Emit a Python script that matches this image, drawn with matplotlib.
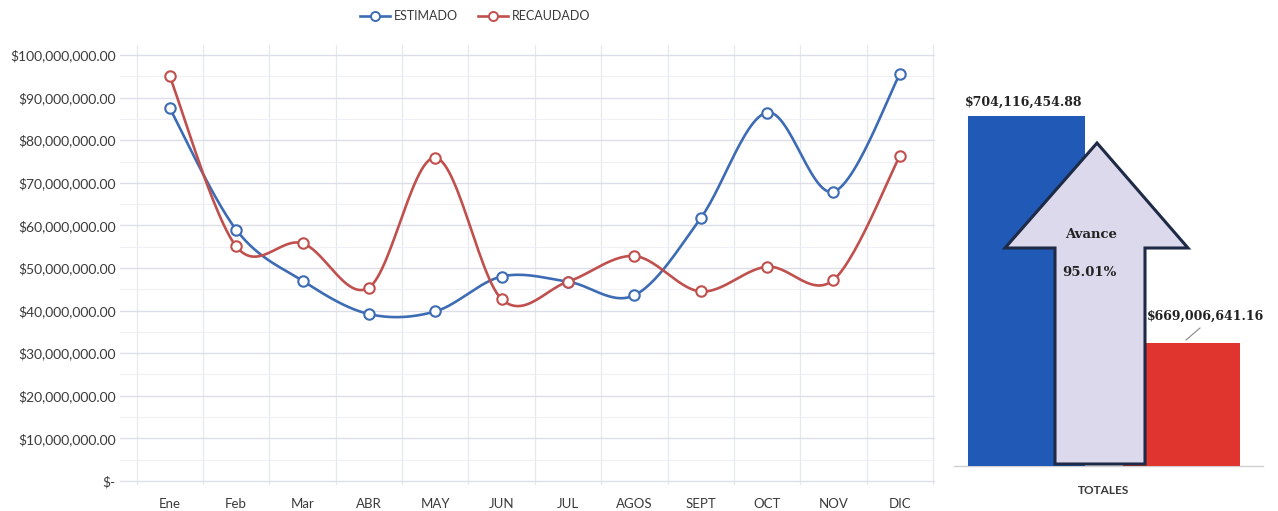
import matplotlib
matplotlib.use("Agg")
import matplotlib.pyplot as plt
import numpy as np
from matplotlib.patches import Polygon
from matplotlib.lines import Line2D
from matplotlib.ticker import FuncFormatter, MultipleLocator

months = ["Ene", "Feb", "Mar", "ABR", "MAY", "JUN", "JUL", "AGOS", "SEPT", "OCT", "NOV", "DIC"]
estimado = [87.5e6, 59.0e6, 47.0e6, 39.2e6, 39.8e6, 48.0e6, 46.8e6, 43.6e6, 61.7e6, 86.5e6, 67.9e6, 95.5e6]
recaudado = [95.0e6, 55.1e6, 55.8e6, 45.4e6, 75.9e6, 42.7e6, 46.8e6, 52.8e6, 44.5e6, 50.3e6, 47.2e6, 76.3e6]
series_names = ["ESTIMADO", "RECAUDADO"]
total_estimado = 704116454.88
total_recaudado = 669006641.16
total_labels = ["$704,116,454.88", "$669,006,641.16"]
total_category = "TOTALES"
avance_text = "Avance"
avance_pct = "95.01%"

BLUE = "#3d6cb4"
RED = "#c0504d"
BAR_BLUE = "#2059b6"
BAR_RED = "#e0352e"
TXT = "#3a3a3a"

W, H = 1278, 511
fig = plt.figure(figsize=(W / 100, H / 100), dpi=100)
fig.patch.set_facecolor("white")


def fx(px):
    return px / W


def fy(py):
    return 1 - py / H


def smooth(y):
    y = np.asarray(y, dtype=float)
    n = len(y)
    x = np.arange(n, dtype=float)
    pts = np.column_stack([x, y])
    out = []
    t = np.linspace(0, 1, 30)
    for i in range(n - 1):
        p0 = pts[i]
        p3 = pts[i + 1]
        pm = pts[i - 1] if i > 0 else pts[i]
        pp = pts[i + 2] if i + 2 < n else pts[i + 1]
        p1 = p0 + (p3 - pm) / 6
        p2 = p3 - (pp - p0) / 6
        seg = ((1 - t) ** 3)[:, None] * p0 + (3 * (1 - t) ** 2 * t)[:, None] * p1 \
            + (3 * (1 - t) * t ** 2)[:, None] * p2 + (t ** 3)[:, None] * p3
        out.append(seg if i == 0 else seg[1:])
    s = np.vstack(out)
    return s[:, 0], s[:, 1]


# ---- line chart ----
ax = fig.add_axes([fx(120), fy(485), fx(935) - fx(120), fy(45) - fy(485)])
ax.set_xlim(-0.75, 11.53)
ax.set_ylim(-0.94e6, 102.35e6)
ax.set_facecolor("white")
for s in ax.spines.values():
    s.set_visible(False)

ax.yaxis.set_major_locator(MultipleLocator(10e6))
ax.yaxis.set_minor_locator(MultipleLocator(5e6))
ax.grid(which="major", axis="y", color="#dcdee8", lw=1.0)
ax.grid(which="minor", axis="y", color="#eef0f5", lw=0.8)
for b in np.arange(-0.5, 12, 1.0):
    ax.axvline(b, color="#e6e8ef", lw=0.9, zorder=0)
ax.set_axisbelow(True)

ax.yaxis.set_major_formatter(FuncFormatter(lambda v, p: "$-" if abs(v) < 1 else f"${v:,.2f}"))
ax.set_yticks(np.arange(0, 100e6 + 1, 10e6))
ax.set_xticks(range(len(months)))
ax.set_xticklabels(months)
ax.tick_params(axis="both", which="both", length=0, labelcolor=TXT)
ax.tick_params(axis="y", labelsize=10, pad=3)
ax.tick_params(axis="x", labelsize=9.5, pad=9)
for lab in ax.get_xticklabels() + ax.get_yticklabels():
    lab.set_fontfamily("Lato")

for vals, col in ((estimado, BLUE), (recaudado, RED)):
    xs, ys = smooth(vals)
    ax.plot(xs, ys, color=col, lw=1.9, zorder=3, solid_capstyle="round")
    ax.plot(range(len(vals)), vals, ls="none", marker="o", ms=7.5, mfc="white",
            mec=col, mew=1.5, zorder=4)

handles = [Line2D([0], [0], color=BLUE, lw=1.9, marker="o", ms=6.5, mfc="white", mec=BLUE, mew=1.4),
           Line2D([0], [0], color=RED, lw=1.9, marker="o", ms=6.5, mfc="white", mec=RED, mew=1.4)]
fig.legend(handles, series_names, loc="center", bbox_to_anchor=(fx(475), fy(16)), ncol=2,
           frameon=False, prop={"family": "Lato", "size": 9}, labelcolor=TXT,
           handlelength=2.4, handletextpad=0.3, columnspacing=1.6)

# ---- totals bar chart ----
bx = fig.add_axes([fx(954), fy(466), fx(1254) - fx(954), fy(60) - fy(466)])
bx.set_xlim(-0.5, 0.5)
bx.set_ylim(650e6, 712.8e6)
for s in bx.spines.values():
    s.set_visible(False)
bx.set_yticks([])
bx.set_xticks([0])
bx.set_xticklabels([total_category], fontfamily="Lato", fontsize=8.5, color=TXT, fontweight="bold")
bx.tick_params(axis="x", length=0, pad=14)
bx.axhline(650e6, xmin=0.0, xmax=1.03, color="#d0d0d0", lw=1, clip_on=False)
offs = [-0.258, 0.258]
bx.bar(offs[0], total_estimado - 650e6, bottom=650e6, width=0.39, color=BAR_BLUE, zorder=2)
bx.bar(offs[1], total_recaudado - 650e6, bottom=650e6, width=0.39, color=BAR_RED, zorder=2)

# arrow (drawn over the bars)
arrow_px = [(1055, 464), (1055, 248), (1005, 248), (1097, 143), (1188, 248), (1145, 248), (1145, 464)]
arrow = Polygon([(fx(a), fy(b)) for a, b in arrow_px], closed=True, transform=fig.transFigure,
                facecolor="#dcd9ec", edgecolor="#1e2a46", lw=2.2, zorder=5)
fig.patches.append(arrow)

serif = "DejaVu Serif"
fig.text(fx(1024), fy(102), total_labels[0], ha="center", va="center", fontsize=9,
         fontweight="bold", family=serif, color="#222222")
fig.text(fx(1206), fy(316), total_labels[1], ha="center", va="center", fontsize=9,
         fontweight="bold", family=serif, color="#222222")
fig.add_artist(Line2D([fx(1186), fx(1200)], [fy(340), fy(328)], color="#888888", lw=0.8))
fig.text(fx(1091), fy(234), avance_text, ha="center", va="center", fontsize=9.5,
         fontweight="bold", family=serif, color="#222222", zorder=6)
fig.text(fx(1089), fy(272), avance_pct, ha="center", va="center", fontsize=9.5,
         fontweight="bold", family=serif, color="#222222", zorder=6)

fig.savefig("out.png", dpi=100)
